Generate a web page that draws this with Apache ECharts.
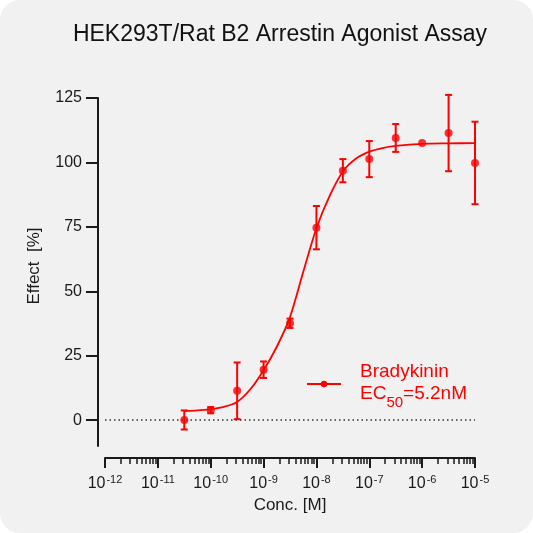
<!DOCTYPE html>
<html>
<head>
<meta charset="utf-8">
<script src="https://cdn.jsdelivr.net/npm/echarts@6/dist/echarts.min.js"></script>
<style>
  html, body { margin: 0; padding: 0; background: #ffffff; }
  #chart { width: 533px; height: 533px; background: #f1f1f1; border-radius: 20px; overflow: hidden; }
</style>
</head>
<body>
<div id="chart"></div>
<script>
// log10 of concentration [M]
const logConc = [-10.5, -10, -9.5, -9, -8.5, -8, -7.5, -7, -6.5, -6, -5.5, -5];
const meanEffect = [0.1, 3.9, 11.4, 19.6, 37.6, 74.7, 96.8, 101.3, 109.5, 107.5, 111.4, 99.8];
const sdEffect = [3.7, 1.2, 11, 3.2, 1.8, 8.4, 4.5, 7, 5.4, 0, 14.8, 16];

// fitted curve
const curveLogConc = [-10.5, -10.25, -10, -9.75, -9.5, -9.25, -9, -8.75, -8.5, -8.25, -8, -7.75, -7.5, -7.25, -7, -6.75, -6.5, -6, -5.5, -5];
const curveEffect = [3.6, 3.8, 4.3, 5.2, 7.1, 12.0, 19.4, 28.5, 40, 57.5, 74.5, 87, 96.5, 101.5, 104.2, 105.6, 106.4, 107.2, 107.4, 107.5];

const decades = [-12, -11, -10, -9, -8, -7, -6, -5];
const minorMultipliers = [2, 3, 4, 5, 6, 7, 8, 9];
const yTicks = [0, 25, 50, 75, 100, 125];

const red = '#ff0000';
const ink = '#1a1a1a';
const font = '"Liberation Sans", Arial, sans-serif';

const minorTicks = [];
decades.slice(0, -1).forEach((d) => minorMultipliers.forEach((k) => minorTicks.push(d + Math.log10(k))));

const points = logConc.map((x, i) => [x, meanEffect[i]]);
const errors = logConc.map((x, i) => [x, meanEffect[i] - sdEffect[i], meanEffect[i] + sdEffect[i]]).filter((d, i) => sdEffect[i] > 0);
const curve = curveLogConc.map((x, i) => [x, curveEffect[i]]);

const chart = echarts.init(document.getElementById('chart'), null, { renderer: 'canvas' });
chart.setOption({
  animation: false,
  textStyle: { fontFamily: font },
  title: {
    text: 'HEK293T/Rat B2 Arrestin Agonist Assay',
    left: 275, top: 18, textAlign: 'center',
    textStyle: { fontSize: 23, fontWeight: 'normal', color: '#111', fontFamily: font },
  },
  grid: { left: 105, right: 58, top: 98, bottom: 87 },
  legend: {
    data: ['Bradykinin'],
    left: 301, top: 357,
    itemWidth: 34, itemHeight: 8,
    selectedMode: false,
    formatter: () => '{a|Bradykinin}\n{a|EC}{s|50}{a|=5.2nM}',
    textStyle: {
      padding: [0, 0, 0, 14],
      rich: {
        a: { fontSize: 19, color: red, lineHeight: 22, verticalAlign: 'top', fontFamily: font },
        s: { fontSize: 15, color: red, lineHeight: 15, padding: [11, 0, 0, 0], verticalAlign: 'top', fontFamily: font },
      },
    },
  },
  xAxis: [
    {
      type: 'value', min: -12, max: -5, interval: 1, position: 'bottom', offset: 12,
      name: 'Conc. [M]', nameLocation: 'middle', nameGap: 33,
      nameTextStyle: { fontSize: 17, color: ink, fontFamily: font },
      axisLine: { onZero: false, lineStyle: { color: ink, width: 2 } },
      axisTick: { length: 10, lineStyle: { color: ink, width: 2 } },
      axisLabel: {
        margin: 14,
        formatter: (v) => `{b|10}{s|${v}}`,
        rich: {
          b: { fontSize: 16, color: ink, lineHeight: 20, verticalAlign: 'bottom', fontFamily: font },
          s: { fontSize: 11, color: ink, lineHeight: 11, padding: [0, 0, 7, 1], verticalAlign: 'bottom', fontFamily: font },
        },
      },
      splitLine: { show: false },
    },
    {
      type: 'value', min: -12, max: -5, position: 'bottom', offset: 12,
      axisLine: { show: false, onZero: false },
      axisTick: { length: 6, customValues: minorTicks, lineStyle: { color: ink, width: 1.5 } },
      axisLabel: { show: false },
      splitLine: { show: false },
    },
  ],
  yAxis: {
    type: 'value', min: -10, max: 125, offset: 7,
    name: 'Effect  [%]', nameLocation: 'middle', nameGap: 55,
    nameTextStyle: { fontSize: 17, color: ink, fontFamily: font, padding: [0, 0, 0, 12] },
    axisLine: { show: true, onZero: false, lineStyle: { color: ink, width: 2 } },
    axisTick: { show: true, length: 12, customValues: yTicks, lineStyle: { color: ink, width: 2 } },
    axisLabel: { customValues: yTicks, margin: 16, fontSize: 16, color: ink, fontFamily: font },
    splitLine: { show: false },
  },
  series: [
    {
      name: 'Bradykinin',
      type: 'line',
      data: curve,
      smooth: 0.3,
      symbol: 'circle',
      symbolSize: 7,
      showSymbol: false,
      lineStyle: { color: red, width: 1.8 },
      itemStyle: { color: red },
      z: 3,
    },
    {
      name: 'error',
      type: 'custom',
      data: errors,
      renderItem: (params, api) => {
        const top = api.coord([api.value(0), api.value(2)]);
        const bottom = api.coord([api.value(0), api.value(1)]);
        const style = { stroke: red, lineWidth: 2 };
        const cap = 3.5;
        return {
          type: 'group',
          children: [
            { type: 'line', shape: { x1: top[0], y1: top[1], x2: bottom[0], y2: bottom[1] }, style },
            { type: 'line', shape: { x1: top[0] - cap, y1: top[1], x2: top[0] + cap, y2: top[1] }, style },
            { type: 'line', shape: { x1: bottom[0] - cap, y1: bottom[1], x2: bottom[0] + cap, y2: bottom[1] }, style },
          ],
        };
      },
      z: 4,
    },
    {
      name: 'points',
      type: 'scatter',
      data: points,
      symbol: 'circle',
      symbolSize: 8,
      itemStyle: { color: red },
      z: 5,
      markLine: {
        silent: true,
        symbol: 'none',
        label: { show: false },
        lineStyle: { color: '#333', width: 1.5, type: [1.5, 3] },
        data: [{ yAxis: 0 }],
      },
    },
  ],
});
</script>
</body>
</html>
